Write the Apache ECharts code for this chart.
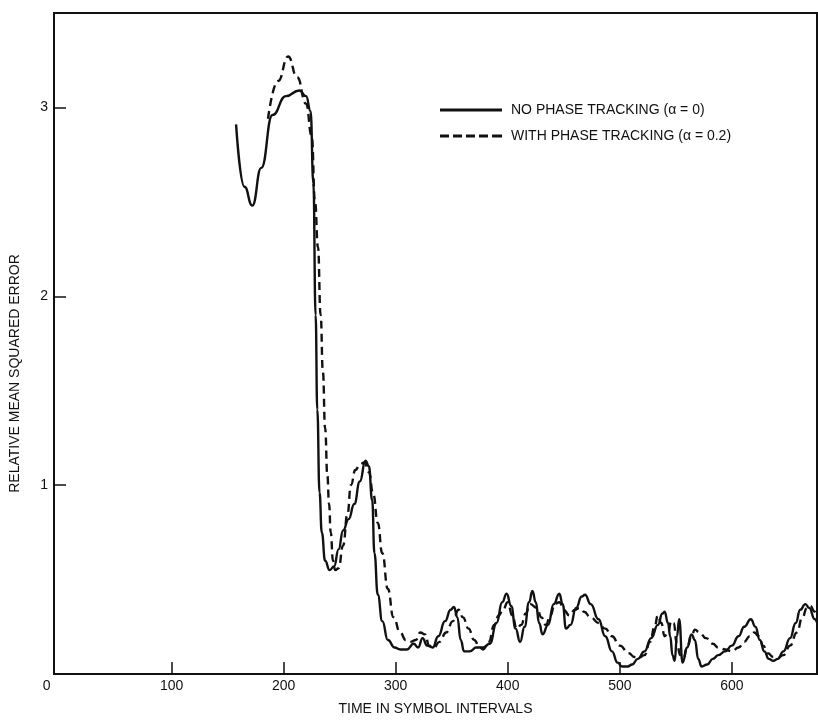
<!DOCTYPE html>
<html>
<head>
<meta charset="utf-8">
<script src="https://cdn.jsdelivr.net/npm/echarts@6/dist/echarts.min.js"></script>
<style>
  html, body { margin: 0; padding: 0; background: #fff; }
  #chart { width: 818px; height: 721px; }
</style>
</head>
<body>
<div id="chart"></div>
<script>
// time in symbol intervals / relative mean squared error
const noTrackX = [157.5, 165, 172, 180, 190, 202, 214, 220, 224, 226.5, 228.5, 230, 232,
  234, 237, 241, 245, 249, 253, 258, 263, 268, 273, 276, 279, 281, 284, 288, 293, 299, 304, 310, 316,
  320, 324, 328, 333, 338, 344, 349, 352, 355, 358, 361, 366, 372, 378, 384, 390, 395, 399, 403, 407,
  411, 415, 419, 422, 425, 428, 431, 436, 441, 446, 449, 452, 456, 461, 466, 469, 474, 481, 487, 493,
  498, 502, 507, 511, 516, 522, 528, 534, 538, 540, 543, 545, 547, 549, 551, 553, 556, 560, 564, 567,
  570, 573, 578, 583, 588, 594, 600, 606, 611, 617, 621, 625, 629, 633, 637, 641, 646, 652, 657, 661,
  665.6, 669, 674, 677]
const noTrackY = [2.91, 2.58, 2.48, 2.68, 2.96, 3.06, 3.09, 3.06, 2.98, 2.6, 1.9, 1.4, 0.96,
  0.75, 0.6, 0.55, 0.57, 0.66, 0.76, 0.82, 0.9, 1.02, 1.13, 1.1, 0.92, 0.64, 0.42, 0.28, 0.18, 0.14, 0.13, 0.13, 0.16,
  0.14, 0.19, 0.15, 0.14, 0.2, 0.28, 0.34, 0.355, 0.3, 0.18, 0.12, 0.12, 0.14, 0.14, 0.16, 0.27, 0.38, 0.425, 0.36, 0.24,
  0.17, 0.25, 0.38, 0.44, 0.38, 0.27, 0.21, 0.26, 0.37, 0.425, 0.37, 0.24, 0.26, 0.35, 0.41, 0.42, 0.37, 0.29, 0.2, 0.12,
  0.06, 0.04, 0.04, 0.05, 0.08, 0.12, 0.19, 0.26, 0.32, 0.33, 0.27, 0.2, 0.1, 0.07, 0.2, 0.29, 0.06, 0.14, 0.21, 0.18,
  0.08, 0.04, 0.05, 0.08, 0.1, 0.12, 0.15, 0.2, 0.25, 0.29, 0.25, 0.18, 0.12, 0.08, 0.07, 0.08, 0.12, 0.19, 0.27, 0.34,
  0.37, 0.35, 0.29, 0.25]

const trackX = [186, 195, 204, 212, 220, 225, 228, 230.6, 233, 235, 237, 239, 240.5, 242, 244,
  246, 249, 253, 257, 260, 264, 268, 272, 276, 280, 284, 288, 293, 298, 304, 309, 313, 318, 322, 326,
  330, 334, 339, 345, 351, 356, 360, 365, 370, 375, 378, 383, 388, 392, 396, 400, 404, 408, 412, 416,
  420, 426, 430, 434, 438, 442, 446, 450, 455, 460, 464, 468, 474, 481, 487, 493, 500, 508, 513, 517,
  522, 527, 531, 534, 537, 540, 543, 546, 548, 551, 554, 557, 560, 564, 567, 571, 577, 583, 588, 594,
  600, 606, 611, 616, 620, 624, 628, 632, 637, 641, 646, 652, 658, 663, 667, 670, 674, 677]
const trackY = [2.94, 3.14, 3.27, 3.16, 3.02, 2.85, 2.5, 2.26, 1.9, 1.6, 1.3, 1.05, 0.9, 0.75, 0.6,
  0.55, 0.56, 0.68, 0.85, 1.0, 1.08, 1.11, 1.12, 1.07, 0.95, 0.8, 0.64, 0.45, 0.3, 0.22, 0.18, 0.17, 0.18, 0.22, 0.21,
  0.15, 0.14, 0.17, 0.22, 0.28, 0.34, 0.3, 0.24, 0.18, 0.14, 0.13, 0.17, 0.26, 0.31, 0.345, 0.38, 0.31, 0.24, 0.26, 0.32,
  0.37, 0.35, 0.3, 0.26, 0.31, 0.37, 0.38, 0.34, 0.31, 0.34, 0.35, 0.33, 0.3, 0.27, 0.24, 0.2, 0.15, 0.11, 0.09, 0.085,
  0.1, 0.17, 0.25, 0.31, 0.27, 0.2, 0.22, 0.28, 0.27, 0.16, 0.1, 0.085, 0.14, 0.2, 0.235, 0.22, 0.19, 0.16, 0.14, 0.13,
  0.12, 0.14, 0.17, 0.2, 0.22, 0.2, 0.15, 0.11, 0.09, 0.085, 0.1, 0.15, 0.22, 0.3, 0.35, 0.36, 0.33, 0.27]

const xTicks = [100, 200, 300, 400, 500, 600]
const xLabels = [0, 100, 200, 300, 400, 500, 600]
const yTicks = [1, 2, 3]
const seriesNames = ['NO PHASE TRACKING (\u03b1 = 0)', 'WITH PHASE TRACKING (\u03b1 = 0.2)']

const pairs = (xs, ys) => xs.map((x, i) => [x, ys[i]])
const font = '"Liberation Sans", Arial, sans-serif'
const ink = '#111'

const chart = echarts.init(document.getElementById('chart'))
chart.setOption({
  animation: false,
  backgroundColor: '#fff',
  textStyle: { fontFamily: font, color: ink },
  grid: {
    left: 47, right: 1, top: 13, bottom: 38,
    show: true, borderColor: ink, borderWidth: 2
  },
  legend: {
    orient: 'vertical',
    left: 435, top: 98,
    itemWidth: 62, itemHeight: 3, itemGap: 12,
    textStyle: { fontSize: 14, color: ink, fontFamily: font, padding: [0, 0, 0, 4] },
    data: [
      { name: seriesNames[0], icon: 'path://M0,0h62v3h-62z' },
      { name: seriesNames[1], icon: 'path://M0,0h9v3h-9zM13,0h9v3h-9zM26,0h9v3h-9zM39,0h9v3h-9zM52,0h10v3h-10z' }
    ]
  },
  xAxis: {
    type: 'value',
    min: -5, max: 676,
    name: 'TIME IN SYMBOL INTERVALS',
    nameLocation: 'middle',
    nameGap: 28,
    nameTextStyle: { fontSize: 14, color: ink },
    axisLine: { onZero: false, lineStyle: { color: ink, width: 2 } },
    axisTick: { inside: true, length: 12, customValues: xTicks, lineStyle: { color: ink, width: 1.5 } },
    axisLabel: {
      customValues: xLabels, fontSize: 14, color: ink, margin: 5,
      formatter: v => (v === 0 ? '{z|0}' : String(v)),
      rich: { z: { fontSize: 14, color: ink, padding: [0, 26, 0, 0] } }
    },
    splitLine: { show: false }
  },
  yAxis: {
    type: 'value',
    min: 0, max: 3.5,
    name: 'RELATIVE MEAN SQUARED ERROR',
    nameLocation: 'middle',
    nameGap: 32,
    nameTextStyle: { fontSize: 14, color: ink, padding: [0, 60, 0, 0] },
    axisLine: { show: true, onZero: false, lineStyle: { color: ink, width: 2 } },
    axisTick: { show: true, inside: true, length: 12, customValues: yTicks, lineStyle: { color: ink, width: 1.5 } },
    axisLabel: { customValues: yTicks, fontSize: 14, color: ink, margin: 6 },
    splitLine: { show: false }
  },
  series: [
    {
      name: seriesNames[0],
      type: 'line',
      data: pairs(noTrackX, noTrackY),
      showSymbol: false,
      symbol: 'none',
      smooth: 0.5,
      smoothMonotone: 'x',
      lineStyle: { color: ink, width: 2.4 },
      itemStyle: { color: ink }
    },
    {
      name: seriesNames[1],
      type: 'line',
      data: pairs(trackX, trackY),
      showSymbol: false,
      symbol: 'none',
      smooth: 0.5,
      smoothMonotone: 'x',
      lineStyle: { color: ink, width: 2.4, type: [8, 5] },
      itemStyle: { color: ink }
    }
  ]
})
</script>
</body>
</html>
